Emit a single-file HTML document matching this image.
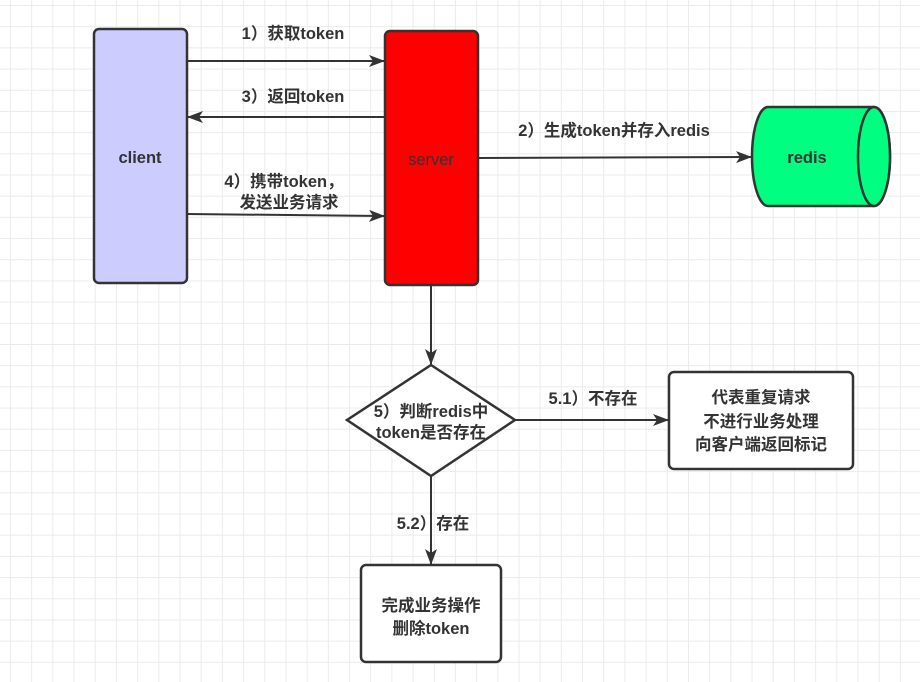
<!DOCTYPE html>
<html><head><meta charset="utf-8"><style>
html,body{margin:0;padding:0}
body{width:920px;height:682px;overflow:hidden;background-color:#fff;
background-image:linear-gradient(#ebebeb 1px,transparent 1px),linear-gradient(90deg,#ebebeb 1px,transparent 1px);
background-size:21.2px 21.2px;background-position:10px 5px;}
svg{position:absolute;left:0;top:0}
text{font-family:"Liberation Sans","Noto Sans CJK SC",sans-serif;font-size:16.5px;font-weight:bold;fill:#333;text-anchor:middle}
</style></head><body>
<svg width="920" height="682" viewBox="0 0 920 682">
<defs><marker id="a" markerWidth="16" markerHeight="12" refX="15" refY="6" orient="auto" markerUnits="userSpaceOnUse"><path d="M0,0 L16,6 L0,12 L4,6 Z" fill="#333"/></marker></defs>
<g stroke="#333" stroke-width="2.5" fill="none">
<rect x="94" y="29" width="93" height="254" rx="5" fill="#ccccff"/>
<rect x="385" y="31" width="93" height="254" rx="5" fill="#ff0000"/>
<path d="M768,107 L874,107 A16,49.5 0 0 1 874,206 L768,206 A16,49.5 0 0 1 768,107 Z" fill="#00ff80"/>
<ellipse cx="874" cy="156.5" rx="16" ry="49.5" fill="#00ff80"/>
<polygon points="431,365 515,420 431,476 347,420" fill="#fff"/>
<rect x="669" y="372" width="184" height="97" rx="5" fill="#fff"/>
<rect x="361" y="565" width="140" height="97" rx="5" fill="#fff"/>
<g stroke-width="2" marker-end="url(#a)">
<line x1="187" y1="61" x2="384" y2="61"/>
<line x1="385" y1="117" x2="188" y2="117"/>
<line x1="187" y1="214" x2="384" y2="216"/>
<line x1="478" y1="158" x2="751" y2="157"/>
<line x1="431" y1="285" x2="431" y2="364"/>
<line x1="515" y1="420" x2="668" y2="420"/>
<line x1="431" y1="476" x2="431" y2="564"/>
</g></g>
<text x="140" y="163" font-size="17">client</text>
<text x="431" y="165" style="font-weight:normal;fill:#333" font-size="16">server</text>
<text x="807" y="163" font-size="17">redis</text>
<text x="293" y="39">1）获取token</text>
<text x="293" y="102">3）返回token</text>
<text x="284" y="187">4）携带token，</text>
<text x="289" y="208">发送业务请求</text>
<text x="614" y="136">2）生成token并存入redis</text>
<text x="431" y="417">5）判断redis中</text>
<text x="431" y="438">token是否存在</text>
<text x="593" y="404">5.1）不存在</text>
<text x="761" y="403">代表重复请求</text>
<text x="761" y="427">不进行业务处理</text>
<text x="761" y="450">向客户端返回标记</text>
<text x="433" y="529">5.2）存在</text>
<text x="431" y="611">完成业务操作</text>
<text x="431" y="634">删除token</text>
</svg>
</body></html>
